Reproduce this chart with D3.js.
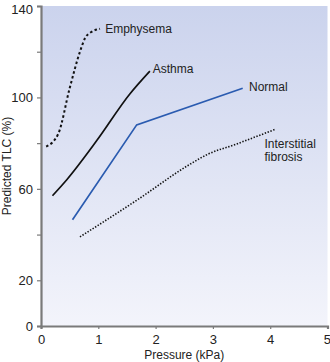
<!DOCTYPE html>
<html>
<head>
<meta charset="utf-8">
<script src="https://cdn.jsdelivr.net/npm/d3@7"></script>
<style>
  body { margin: 0; background: #fff; }
  text { font-family: "Liberation Sans Narrow", "Liberation Sans", Arial, sans-serif; fill: #222; }
</style>
</head>
<body>
<script>
// curves: x = pressure (kPa), y = predicted TLC (%)
var emphysemaX = [0.09, 0.3, 0.5, 0.68, 0.77, 0.87, 1.03];
var emphysemaY = [78.5, 84, 104, 120, 126, 128.5, 130];
var asthmaX = [0.2, 0.45, 0.97, 1.55, 1.9];
var asthmaY = [57, 64, 81, 101.5, 111.5];
var normalX = [0.55, 1.67, 3.52];
var normalY = [46.5, 88, 104];
var fibrosisX = [0.68, 1.7, 2.55, 2.9, 3.4, 4.08];
var fibrosisY = [39, 55.5, 70, 75, 79.5, 86];

var xTicks = [0, 1, 2, 3, 4, 5];
var yTicks = [0, 20, 40, 60, 80, 100, 120, 140];
var yLabelled = [0, 20, 60, 100, 140];

var margin = {top: 6, right: 3, bottom: 36, left: 41},
    width = 330 - margin.left - margin.right,
    height = 362 - margin.top - margin.bottom;

var x = d3.scaleLinear().domain([0, 5]).range([0, 286.5]);
var y = d3.scaleLinear().domain([0, 140]).range([height, 0]);

var svg = d3.select("body").append("svg")
    .attr("width", 330)
    .attr("height", 362);

var defs = svg.append("defs");
var grad = defs.append("linearGradient")
    .attr("id", "bg").attr("x1", 0).attr("y1", 0).attr("x2", 0).attr("y2", 1);
grad.append("stop").attr("offset", "0%").attr("stop-color", "#cbd3ed");
grad.append("stop").attr("offset", "100%").attr("stop-color", "#f3f4fb");

var g = svg.append("g")
    .attr("transform", "translate(" + margin.left + "," + margin.top + ")");

g.append("rect")
    .attr("x", 1).attr("y", 0)
    .attr("width", x(5) - 1).attr("height", height)
    .attr("fill", "url(#bg)");

// axes
var xAxis = g.append("g")
    .attr("transform", "translate(0," + height + ")")
    .call(d3.axisBottom(x).tickValues(xTicks).tickSize(3).tickPadding(6).tickFormat(d3.format("d")));
var yAxis = g.append("g")
    .call(d3.axisLeft(y).tickValues(yTicks).tickSize(4).tickPadding(4)
      .tickFormat(function(d) { return yLabelled.indexOf(d) >= 0 ? d : ""; }));

[xAxis, yAxis].forEach(function(a) {
  a.select(".domain").attr("stroke", "#7a7a7a").attr("stroke-width", 2.2);
  a.selectAll(".tick line").attr("stroke", "#7a7a7a").attr("stroke-width", 1.2);
  a.selectAll(".tick text").attr("font-size", "13px").attr("fill", "#222")
    .style("font-family", '"Liberation Sans Narrow", "Liberation Sans", Arial, sans-serif');
});
// keep the last x label and the top y label inside the window
xAxis.selectAll(".tick text").filter(function(d) { return d === 5; })
    .attr("text-anchor", "end").attr("dx", "3px");
yAxis.selectAll(".tick text").filter(function(d) { return d === 140; })
    .attr("dy", "0.55em");

g.append("text")
    .attr("x", x(2.5)).attr("y", height + 33)
    .attr("text-anchor", "middle")
    .attr("font-size", "12px")
    .text("Pressure (kPa)");
g.append("text")
    .attr("transform", "rotate(-90)")
    .attr("x", -(y(70))).attr("y", -30)
    .attr("text-anchor", "middle")
    .attr("font-size", "12px")
    .text("Predicted TLC (%)");

var line = d3.line()
    .x(function(d) { return x(d[0]); })
    .y(function(d) { return y(d[1]); })
    .curve(d3.curveMonotoneX);
var straight = d3.line()
    .x(function(d) { return x(d[0]); })
    .y(function(d) { return y(d[1]); });

function pts(xs, ys) { return xs.map(function(v, i) { return [v, ys[i]]; }); }

g.append("path").datum(pts(emphysemaX, emphysemaY))
    .attr("d", line).attr("fill", "none")
    .attr("stroke", "#111").attr("stroke-width", 2).attr("stroke-dasharray", "2.5,2.5");
g.append("path").datum(pts(asthmaX, asthmaY))
    .attr("d", line).attr("fill", "none")
    .attr("stroke", "#111").attr("stroke-width", 1.7);
g.append("path").datum(pts(normalX, normalY))
    .attr("d", straight).attr("fill", "none")
    .attr("stroke", "#2a5bb0").attr("stroke-width", 1.7);
g.append("path").datum(pts(fibrosisX, fibrosisY))
    .attr("d", line).attr("fill", "none")
    .attr("stroke", "#111").attr("stroke-width", 1.6).attr("stroke-dasharray", "1.4,1.6");

// labels
var labels = [
  {t: "Emphysema", x: 1.12, y: 130},
  {t: "Asthma", x: 1.95, y: 112.5},
  {t: "Normal", x: 3.63, y: 104.5},
  {t: "Interstitial", x: 3.9, y: 79.5},
  {t: "fibrosis", x: 3.9, y: 74}
];
g.selectAll(".lbl").data(labels).enter().append("text")
    .attr("class", "lbl")
    .attr("x", function(d) { return x(d.x); })
    .attr("y", function(d) { return y(d.y); })
    .attr("dy", "0.35em")
    .attr("font-size", "12px")
    .text(function(d) { return d.t; });
</script>
</body>
</html>
